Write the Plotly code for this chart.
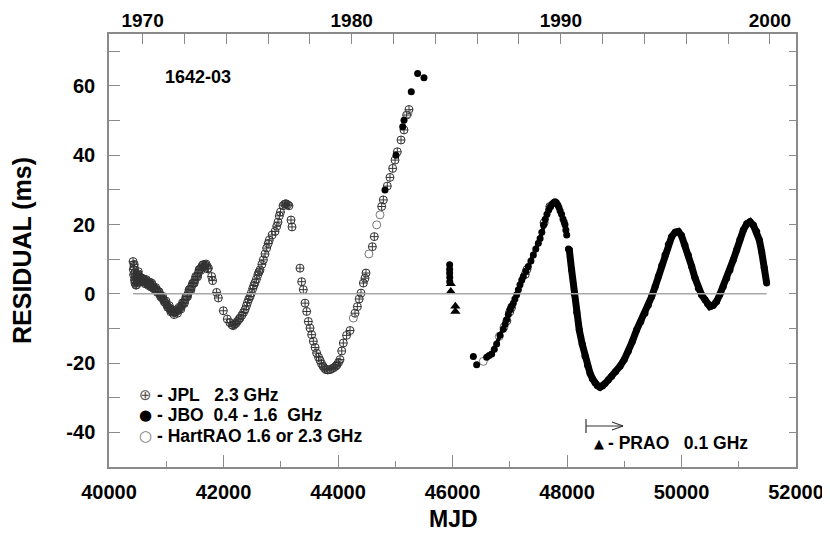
import plotly.graph_objects as go
import pandas as pd

# ---------------- data ----------------
jpl_mjd = [40420, 40425, 40430, 40437, 40445, 40450, 40454, 40460, 40470, 40483, 40490, 40500,
           40512, 40525, 40541, 40560, 40580, 40600, 40620, 40640, 40658, 40680, 40700, 40720,
           40745, 40760, 40774, 40800, 40833, 40860, 40891, 40920, 40949, 40980, 41008, 41040,
           41066, 41095, 41124, 41150, 41183, 41210, 41241, 41270, 41299, 41330, 41358, 41385,
           41415, 41445, 41474, 41500, 41532, 41560, 41590, 41620, 41649, 41680, 41707, 41736,
           40440, 40465, 40478, 40495, 40505, 40518, 40533, 40550, 40570, 40590, 40610, 40630,
           40650, 40670, 40690, 40710, 40730, 40752, 40787, 40815, 40845, 40875, 40905, 40935,
           40965, 40995, 41025, 41052, 41080, 41110, 41137, 41165, 41196, 41225, 41255, 41285,
           41315, 41345, 41372, 41400, 41430, 41460, 41488, 41515, 41546, 41575, 41605, 41635,
           41665, 41695, 41720,
           41793, 41810, 41880, 41910, 41997, 42066, 42110, 42150, 42171, 42190, 42215, 42240,
           42265, 42288, 42320, 42350, 42375, 42400, 42420, 42440, 42463, 42485, 42510, 42530,
           42550, 42575, 42600, 42620, 42638, 42670, 42696, 42725, 42754, 42780, 42800, 42850,
           42900, 42930, 42952, 42975, 42995, 43040, 43070, 43092, 43120, 43144, 43179, 43197,
           43336, 43365, 43394, 43424, 43453, 43482, 43511, 43540, 43569, 43600, 43627, 43660,
           43686, 43712, 43738, 43765, 43790, 43820, 43860, 43895, 43930, 43960, 43983, 44010,
           44035, 44065, 44093, 44150, 44210, 44297, 44338, 44370, 44402, 44443, 44472, 44489,
           44600, 44634, 44763, 44792, 44861, 44908, 44955, 44996, 45036, 45101, 45153, 45200,
           45240, 46950, 47000, 47030, 47270, 47300, 47600, 47700]
jpl_res = [9.3, 7.0, 5.5, 7.9, 4.0, 6.0, 3.1, 5.0, 2.5, 2.6, 5.5, 4.8,
           6.4, 4.0, 4.5, 3.8, 4.3, 4.0, 3.3, 3.8, 3.5, 2.8, 3.0, 2.4,
           3.1, 1.8, 2.1, 1.5, 1.2, 0.5, -0.3, -1.0, -1.7, -2.5, -3.2, -3.9,
           -4.4, -5.0, -5.4, -5.3, -5.1, -4.6, -4.1, -3.4, -2.7, -1.8, -0.8, 0.2,
           1.2, 2.2, 3.1, 4.0, 5.0, 6.0, 7.1, 7.8, 8.4, 8.3, 8.1, 7.4,
           8.5, 3.8, 4.5, 3.2, 5.8, 5.2, 4.9, 3.5, 4.6, 3.4, 4.2, 2.9,
           4.1, 3.2, 2.4, 3.4, 2.0, 2.7, 1.4, 1.8, 0.4, 0.6, -0.9, -0.7,
           -2.3, -2.1, -3.9, -3.4, -5.2, -4.6, -6.0, -4.7, -5.6, -3.9, -4.4, -2.6,
           -2.8, -0.8, -0.8, 1.2, 1.1, 3.0, 3.1, 5.0, 4.9, 7.0, 6.8, 8.3,
           7.8, 8.6, 7.2,
           5.0, 3.8, 0.4, -1.2, -4.9, -7.3, -8.3, -9.0, -9.2, -8.8, -8.6, -8.0,
           -7.5, -7.0, -6.2, -5.4, -4.6, -3.5, -2.5, -1.6, -0.8, 0.2, 1.5, 2.4,
           3.2, 4.2, 5.5, 6.3, 6.9, 8.5, 9.8, 11.5, 13.2, 14.5, 15.5, 17.0,
           18.0, 19.5, 20.7, 22.5, 23.6, 25.4, 25.9, 26.0, 25.7, 25.4, 21.3, 19.3,
           7.4, 3.5, 1.2, -2.7, -5.1, -8.0, -9.9, -11.8, -13.7, -15.5, -17.1, -18.3,
           -19.2, -20.2, -20.9, -21.5, -21.9, -22.0, -21.9, -21.6, -21.3, -20.9, -20.5, -19.8,
           -19.0, -16.5, -14.2, -12.0, -10.6, -5.6, -3.7, -1.5, 0.2, 3.1, 4.5, 6.0,
           13.6, 16.5, 25.2, 27.1, 31.1, 33.6, 36.2, 38.6, 41.0, 44.4, 47.3, 51.6,
           53.2, -7.8, -5.2, -4.0, 5.6, 7.0, 20.5, 25.2]

hart_mjd = [44268, 44540, 44676, 44734, 45220, 46538, 46817, 46900]
hart_res = [-7.0, 11.5, 19.9, 22.8, 52.0, -19.5, -12.3, -9.6]

jbo_early_mjd = [44821, 45013, 45130, 45153, 45280, 45391, 45502,
                 45950, 45950, 45950, 45952, 45952, 46364, 46422]
jbo_early_res = [30.0, 40.0, 48.2, 50.1, 58.3, 63.6, 62.4,
                 8.4, 7.1, 6.0, 4.8, 3.5, -18.1, -20.5]

jbo1_mjd = [46597, 46640, 46684, 46730, 46771, 46830, 46887, 46920, 46946, 46975,
            47004, 47030, 47062, 47090, 47121, 47150, 47179, 47210, 47237, 47280, 47324, 47370,
            47412, 47455, 47499, 47530, 47560, 47590, 47620, 47650, 47680, 47710, 47740, 47765,
            47790, 47815, 47840, 47860, 47880, 47905, 47930, 47950, 47965, 47980, 47995]
jbo1_res = [-18.3, -17.8, -17.4, -16.0, -14.5, -12.0, -10.2, -8.8, -7.5, -6.0,
            -4.6, -3.6, -2.7, -1.5, -0.3, 1.2, 2.6, 4.0, 5.0, 6.5, 7.9, 9.5,
            11.2, 12.9, 14.6, 16.0, 17.8, 19.8, 21.5, 23.0, 24.2, 25.2, 25.9, 26.3,
            26.6, 26.3, 25.6, 24.9, 24.0, 23.0, 21.6, 20.7, 19.9, 18.4, 17.0]

jbo2_mjd = [48025, 48040, 48080, 48127, 48170, 48214, 48265, 48314, 48360, 48402, 48445, 48489,
            48530, 48576, 48620, 48664, 48720, 48780, 48850, 48926, 49000, 49071, 49140, 49217,
            49290, 49362, 49420, 49479, 49540, 49595, 49655, 49712, 49770, 49828, 49890, 49945,
            50000, 50061, 50120, 50178, 50235, 50294, 50350, 50411, 50455, 50498, 50555, 50614,
            50670, 50730, 50790, 50847, 50905, 50964, 51020, 51080, 51140, 51197, 51255, 51313,
            51360, 51400, 51445, 51487]
jbo2_res = [12.9, 12.7, 7.0, 0.0, -5.3, -10.4, -14.5, -18.0, -20.7, -22.9, -24.5, -25.7,
            -26.5, -27.0, -26.6, -25.9, -24.9, -23.8, -22.4, -20.9, -19.0, -16.6, -13.8, -10.4,
            -8.0, -5.6, -3.3, -0.8, 2.1, 5.0, 8.2, 11.2, 14.2, 16.5, 17.8, 18.0,
            16.8, 14.1, 11.1, 7.9, 4.6, 1.6, -0.3, -1.7, -2.9, -3.7, -3.3, -2.2,
            -0.2, 2.1, 4.5, 6.9, 9.8, 12.7, 15.7, 18.4, 20.2, 20.8, 19.8, 18.0,
            15.5, 12.2, 7.5, 3.1]

prao_mjd = [45970, 45970, 46050, 46050]
prao_res = [2.9, 0.7, -3.6, -5.1]

x_ticks = list(range(40000, 52001, 2000))
x_labels = [str(v) for v in x_ticks]
y_ticks = list(range(-40, 71, 10))
y_labels = [str(v) if v % 20 == 0 else "" for v in y_ticks]
years = list(range(1970, 2001, 2))
year_labels = [str(y) if y % 10 == 0 else "" for y in years]
mjd0 = pd.Timestamp("1858-11-17")
year_mjd = [(pd.Timestamp(f"{y}-01-01") - mjd0).days for y in years]

# ---------------- figure ----------------
SANS = "Liberation Sans, Arial, Helvetica, sans-serif"
AX = "#8a8a8a"

fig = go.Figure()
all_x = jpl_mjd + jbo_early_mjd + jbo1_mjd + jbo2_mjd
fig.add_trace(go.Scatter(x=[min(all_x), max(all_x)], y=[0, 0], mode="lines",
                         line=dict(color="#a8a8a8", width=1.5), xaxis="x2", yaxis="y2",
                         hoverinfo="skip", showlegend=False))
fig.add_trace(go.Scatter(x=jpl_mjd, y=jpl_res, mode="markers", showlegend=False,
                         marker=dict(symbol="circle-cross-open", size=8, color="#333333",
                                     line=dict(width=1, color="#333333"))))
fig.add_trace(go.Scatter(x=hart_mjd, y=hart_res, mode="markers", showlegend=False,
                         marker=dict(symbol="circle-open", size=8, color="#777777",
                                     line=dict(width=1, color="#777777"))))
fig.add_trace(go.Scatter(x=jbo_early_mjd, y=jbo_early_res, mode="markers", showlegend=False,
                         marker=dict(symbol="circle", size=7, color="black")))
fig.add_trace(go.Scatter(x=jbo1_mjd, y=jbo1_res, mode="lines+markers", showlegend=False,
                         line=dict(color="black", width=4),
                         marker=dict(symbol="circle", size=7, color="black")))
fig.add_trace(go.Scatter(x=jbo2_mjd, y=jbo2_res, mode="lines+markers", showlegend=False,
                         line=dict(color="black", width=7),
                         marker=dict(symbol="circle", size=7, color="black")))
fig.add_trace(go.Scatter(x=prao_mjd, y=prao_res, mode="markers", showlegend=False,
                         marker=dict(symbol="triangle-up", size=9, color="black")))

# page body adds an 8px offset; the figure is shrunk so the plot area lands at
# x 109..796, y 34..467 of the 830x538 window
tickfont = dict(family=SANS, size=20, color="black", weight="bold")
topfont = dict(family=SANS, size=19, color="black", weight="bold")
fig.update_layout(
    width=822, height=530,
    margin=dict(l=101, r=34, t=26, b=71, autoexpand=False),
    paper_bgcolor="white", plot_bgcolor="white",
    xaxis=dict(range=[40000, 52000], tickmode="array", tickvals=x_ticks, ticktext=x_labels,
               ticks="inside", ticklen=12, tickwidth=1, tickcolor=AX,
               showline=True, linecolor=AX, linewidth=1.5, automargin=False,
               minor=dict(ticks="inside", ticklen=6, tickwidth=1, tickcolor=AX,
                          tickmode="linear", tick0=40000, dtick=1000, showgrid=False),
               showgrid=False, zeroline=False, tickfont=tickfont, ticklabelstandoff=6),
    xaxis2=dict(range=[40000, 52000], overlaying="x", side="top", anchor="y2",
                tickmode="array", tickvals=year_mjd, ticktext=year_labels,
                ticks="inside", ticklen=10, tickwidth=1, tickcolor=AX,
                showline=True, linecolor=AX, linewidth=1.5, automargin=False,
                showgrid=False, zeroline=False, tickfont=topfont, ticklabelstandoff=-2),
    yaxis=dict(range=[-50, 75], tickmode="array", tickvals=y_ticks, ticktext=y_labels,
               ticks="inside", ticklen=11, tickwidth=1, tickcolor=AX,
               showline=True, linecolor=AX, linewidth=1.5, automargin=False,
               showgrid=False, zeroline=False, tickfont=tickfont, ticklabelstandoff=8),
    yaxis2=dict(range=[-50, 75], overlaying="y", side="right", anchor="x2",
                tickmode="array", tickvals=y_ticks, showticklabels=False,
                ticks="inside", ticklen=7, tickwidth=1, tickcolor=AX,
                showline=True, linecolor=AX, linewidth=1.5, automargin=False,
                showgrid=False, zeroline=False),
)

def px(xp):
    return (xp - 109) / 687.0

def py(yp):
    return (467 - yp) / 433.0

ann = []
ann.append(dict(text="RESIDUAL (ms)", x=px(22), y=py(251), xref="paper", yref="paper",
                textangle=-90, showarrow=False, xanchor="center", yanchor="middle",
                font=dict(family=SANS, size=25, color="black", weight="bold")))
ann.append(dict(text="MJD", x=px(453), y=py(519), xref="paper", yref="paper",
                showarrow=False, xanchor="center", yanchor="middle",
                font=dict(family=SANS, size=23, color="black", weight="bold")))
ann.append(dict(text="1642-03", x=px(198), y=py(77), xref="paper", yref="paper",
                showarrow=False, xanchor="center", yanchor="middle",
                font=dict(family=SANS, size=18, color="black", weight="bold")))

lab_font = dict(family=SANS, size=17.5, color="black", weight="bold")
legend_rows = [("\u2295", "#555555", "- JPL   2.3 GHz", 395),
               ("\u25CF", "black", "- JBO  0.4 - 1.6  GHz", 415),
               ("\u25CB", "#777777", "- HartRAO 1.6 or 2.3 GHz", 436)]
for sym, col, txt, yy in legend_rows:
    ann.append(dict(text=sym, x=px(145), y=py(yy), xref="paper", yref="paper",
                    showarrow=False, xanchor="center", yanchor="middle",
                    font=dict(family="DejaVu Sans", size=15, color=col)))
    ann.append(dict(text=txt.replace(" ", "&nbsp;"), x=px(155), y=py(yy), xref="paper",
                    yref="paper", showarrow=False, xanchor="left", yanchor="middle",
                    font=lab_font))
ann.append(dict(text="\u25B2", x=px(599), y=py(443), xref="paper", yref="paper",
                showarrow=False, xanchor="center", yanchor="middle",
                font=dict(family="DejaVu Sans", size=13, color="black")))
ann.append(dict(text="- PRAO   0.1 GHz".replace(" ", "&nbsp;"), x=px(606), y=py(443),
                xref="paper", yref="paper", showarrow=False, xanchor="left",
                yanchor="middle", font=lab_font))
fig.update_layout(annotations=ann)

sh = []
L = dict(color="#333333", width=1.2)
sh.append(dict(type="line", xref="paper", yref="paper", x0=px(586), x1=px(586),
               y0=py(419), y1=py(433), line=L))
sh.append(dict(type="line", xref="paper", yref="paper", x0=px(586), x1=px(623),
               y0=py(426), y1=py(426), line=L))
sh.append(dict(type="line", xref="paper", yref="paper", x0=px(612), x1=px(623),
               y0=py(422), y1=py(426), line=L))
sh.append(dict(type="line", xref="paper", yref="paper", x0=px(612), x1=px(623),
               y0=py(430), y1=py(426), line=L))
fig.update_layout(shapes=sh)

fig.write_html("out.html")
